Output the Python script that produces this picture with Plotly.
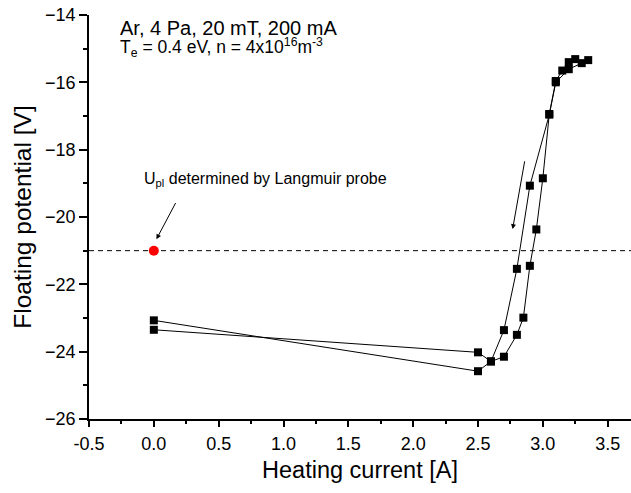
import plotly.graph_objects as go

# Hysteresis loop: heating current [A] vs floating potential [V]
current = [0.0, 2.5, 2.6, 2.7, 2.8, 2.85, 2.9, 2.95, 3.0, 3.05, 3.1, 3.15, 3.2, 3.25, 3.3, 3.35,
           3.2, 3.1, 3.05, 2.9, 2.8, 2.7, 2.6, 2.5, 0.0]
potential = [-23.35, -24.02, -24.29, -24.15, -23.50, -22.99, -21.45, -20.37, -18.85, -16.94, -15.96,
             -15.65, -15.40, -15.31, -15.43, -15.34,
             -15.61, -16.00, -16.96, -19.07, -21.54, -23.36, -24.29, -24.58, -23.07]

# Plasma potential from Langmuir probe
probe_current = [0.0]
probe_potential = [-21.0]
u_pl = -21.0

x_range = [-0.5, 3.68]
y_range = [-26, -14]
x_ticks = [-0.5, 0.0, 0.5, 1.0, 1.5, 2.0, 2.5, 3.0, 3.5]
y_ticks = [-26, -24, -22, -20, -18, -16, -14]

FONT = "Liberation Sans, Arial, sans-serif"

fig = go.Figure()
fig.add_trace(go.Scatter(
    x=current, y=potential, mode="lines+markers",
    line=dict(color="black", width=1),
    marker=dict(symbol="square", size=8, color="black"),
    showlegend=False, cliponaxis=False))
fig.add_trace(go.Scatter(
    x=probe_current, y=probe_potential, mode="markers",
    marker=dict(symbol="circle", size=10, color="#ff0000"),
    showlegend=False))

fig.add_shape(type="line", xref="paper", x0=0, x1=1, yref="y", y0=u_pl, y1=u_pl,
              line=dict(color="black", width=1, dash="5px,4px"), layer="below")

# annotations
fig.add_annotation(x=-0.093, y=-18.9, xref="x", yref="y", xanchor="left", yanchor="middle",
                   text="U<sub>pl</sub> determined by Langmuir probe", showarrow=False,
                   font=dict(family=FONT, size=16, color="black"))
fig.add_annotation(x=0.02, y=-20.66, ax=0.174, ay=-19.54, xref="x", yref="y", axref="x", ayref="y",
                   text="", showarrow=True, arrowhead=2, arrowsize=1, arrowwidth=1, arrowcolor="black")
fig.add_annotation(x=2.767, y=-20.36, ax=2.862, ay=-18.30, xref="x", yref="y", axref="x", ayref="y",
                   text="", showarrow=True, arrowhead=2, arrowsize=1, arrowwidth=1, arrowcolor="black")
fig.add_annotation(x=-0.278, y=-14.39, xref="x", yref="y", xanchor="left", yanchor="middle",
                   text="Ar, 4 Pa, 20 mT, 200 mA", showarrow=False,
                   font=dict(family=FONT, size=20, color="black"))
fig.add_annotation(x=-0.278, y=-14.97, xref="x", yref="y", xanchor="left", yanchor="middle",
                   text="T<sub>e</sub> = 0.4 eV, n = 4x10<sup>16</sup>m<sup>-3</sup>", showarrow=False,
                   font=dict(family=FONT, size=17.5, color="black"))

fig.update_layout(
    width=631, height=493,
    margin=dict(l=89, r=0, t=15, b=74),
    paper_bgcolor="white", plot_bgcolor="white",
    font=dict(family=FONT, size=18, color="black"),
    showlegend=False,
)
fig.update_xaxes(
    range=x_range, tickvals=x_ticks, ticktext=[f"{v:.1f}" for v in x_ticks],
    showgrid=False, zeroline=False, showline=True, linecolor="black", linewidth=1.5,
    ticks="outside", ticklen=6, tickwidth=1.5, tickcolor="black", ticklabelstandoff=2,
    minor=dict(dtick=0.25, tick0=-0.5, ticks="outside", ticklen=3, tickwidth=1.5, tickcolor="black"),
    title=dict(text="Heating current [A]", font=dict(family=FONT, size=23.5), standoff=8),
    automargin=False,
)
fig.update_yaxes(
    range=y_range, tickvals=y_ticks,
    showgrid=False, zeroline=False, showline=True, linecolor="black", linewidth=1.5,
    ticks="outside", ticklen=8, tickwidth=1.5, tickcolor="black",
    minor=dict(dtick=1, tick0=-26, ticks="outside", ticklen=4, tickwidth=1.5, tickcolor="black"),
    title=dict(text="Floating potential [V]", font=dict(family=FONT, size=24.5), standoff=7),
    automargin=False,
)

fig.write_html("out.html")
